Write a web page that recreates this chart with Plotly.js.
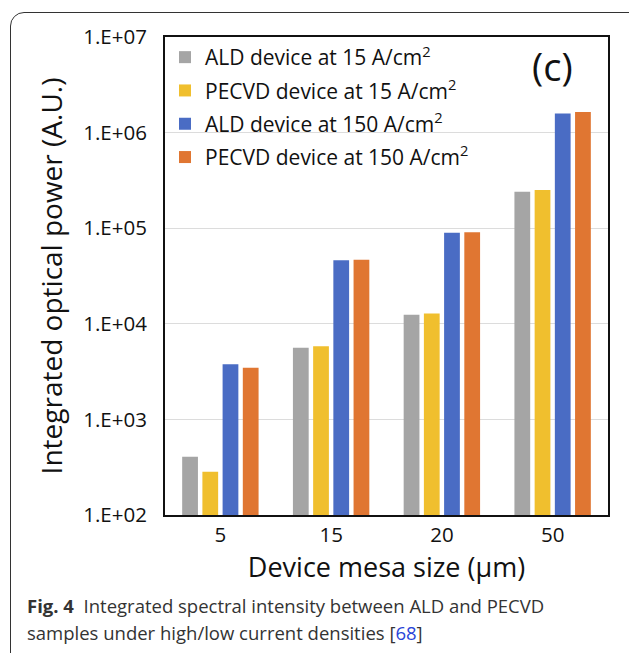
<!DOCTYPE html>
<html>
<head>
<meta charset="utf-8">
<script src="https://cdn.plot.ly/plotly-3.0.1.min.js"></script>
<style>
html,body{margin:0;padding:0;background:#fff;}
#frame{position:absolute;left:10px;top:12px;width:640px;height:660px;border:1.3px solid #333;border-radius:14px;box-sizing:border-box;}
#chart{position:absolute;left:0;top:0;width:629px;height:653px;}
</style>
</head>
<body>
<div id="frame"></div>
<div id="chart"></div>
<script>
const categories = ['5', '15', '20', '50'];
const seriesNames = [
  'ALD device at 15 A/cm<sup>2</sup>',
  'PECVD device at 15 A/cm<sup>2</sup>',
  'ALD device at 150 A/cm<sup>2</sup>',
  'PECVD device at 150 A/cm<sup>2</sup>'
];
const ald15 = [407, 5620, 12400, 241000];
const pecvd15 = [284, 5820, 12800, 251000];
const ald150 = [3770, 46100, 89800, 1585000];
const pecvd150 = [3480, 46900, 90600, 1640000];
const colors = ['#A5A5A5', '#F0BF2E', '#4A6CC4', '#E07632'];
const yTickVals = [1e2, 1e3, 1e4, 1e5, 1e6, 1e7];
const yTickText = ['1.E+02', '1.E+03', '1.E+04', '1.E+05', '1.E+06', '1.E+07'];

const seriesValues = [ald15, pecvd15, ald150, pecvd150];
const FONT = '"Open Sans", sans-serif';

const traces = seriesValues.map((vals, i) => ({
  type: 'bar',
  name: seriesNames[i],
  legendgroup: 'g' + i,
  x: categories,
  y: vals,
  marker: {color: colors[i]},
  hoverinfo: 'skip'
}));

const layout = {
  width: 629,
  height: 653,
  margin: {l: 165, r: 21, t: 37, b: 138},
  paper_bgcolor: 'rgba(0,0,0,0)',
  plot_bgcolor: '#fff',
  barmode: 'group',
  bargap: 0.27,
  bargroupgap: 0.22,
  font: {family: FONT, color: '#111'},
  showlegend: true,
  legend: {
    x: 0.0, y: 1.0, xanchor: 'left', yanchor: 'top',
    bgcolor: 'rgba(255,255,255,0)',
    font: {family: FONT, size: 21, color: '#111'},
    traceorder: 'grouped',
    tracegroupgap: 3
  },
  xaxis: {
    type: 'category',
    showline: true, linecolor: '#111', linewidth: 2, mirror: true,
    ticks: '', tickfont: {family: FONT, size: 20.5, color: '#111'},
    title: {text: 'Device mesa size (\u03bcm)', font: {family: FONT, size: 27, color: '#111'}, standoff: 10},
    showgrid: false
  },
  yaxis: {
    type: 'log',
    range: [2, 7],
    tickvals: yTickVals,
    ticktext: yTickText,
    showline: true, linecolor: '#111', linewidth: 2, mirror: true,
    ticks: '', ticklabelstandoff: 12,
    tickfont: {family: FONT, size: 20.5, color: '#111'},
    gridcolor: '#dcdcdc', gridwidth: 1,
    title: {text: 'Integrated optical power (A.U.)', font: {family: FONT, size: 28, color: '#111'}, standoff: 12},
    zeroline: false
  },
  annotations: [
    {text: '(c)', xref: 'paper', yref: 'paper', x: 0.875, y: 0.94, xanchor: 'center', yanchor: 'middle',
     showarrow: false, font: {family: FONT, size: 38, color: '#111'}},
    {text: '<b>Fig. 4</b>  Integrated spectral intensity between ALD and PECVD', xref: 'paper', yref: 'paper',
     x: -0.316, y: -0.19, xanchor: 'left', yanchor: 'middle', showarrow: false, align: 'left',
     font: {family: FONT, size: 18.5, color: '#333'}},
    {text: 'samples under high/low current densities [<span style="color:#2a44d8">68</span>]', xref: 'paper', yref: 'paper',
     x: -0.316, y: -0.246, xanchor: 'left', yanchor: 'middle', showarrow: false, align: 'left',
     font: {family: FONT, size: 18.5, color: '#333'}}
  ]
};

Plotly.newPlot('chart', traces, layout, {displayModeBar: false, staticPlot: true});
</script>
</body>
</html>
